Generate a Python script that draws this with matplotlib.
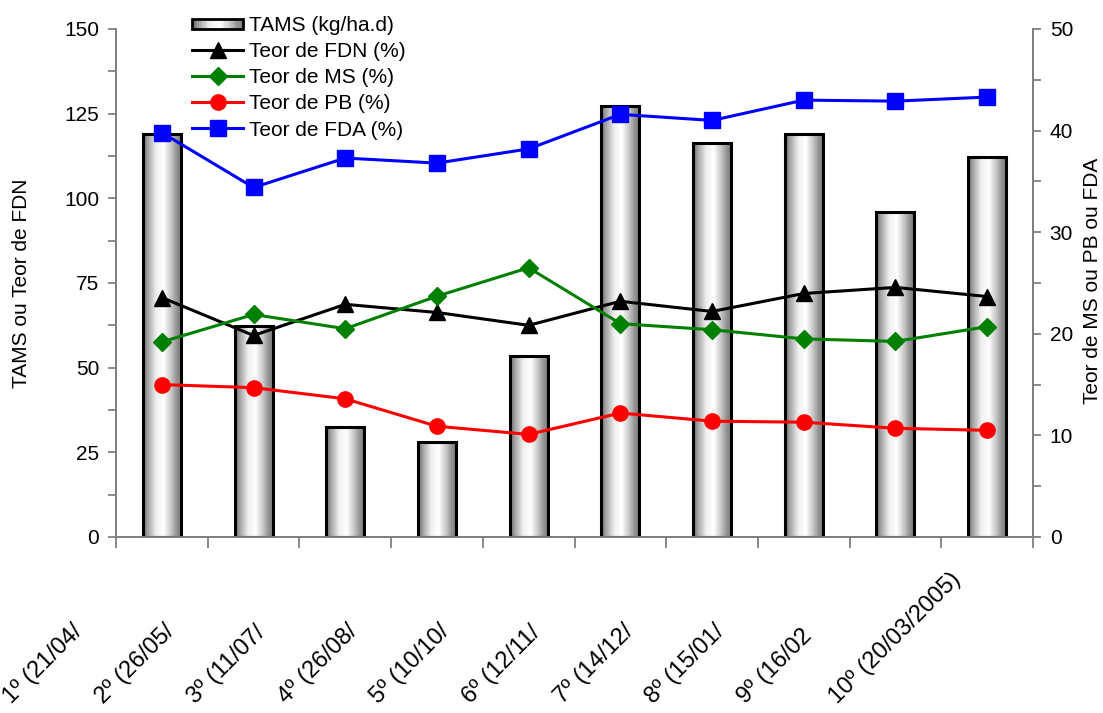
import numpy as np
import matplotlib
matplotlib.use("Agg")
import matplotlib.pyplot as plt
from matplotlib.patches import Rectangle
from matplotlib.lines import Line2D
from matplotlib.legend_handler import HandlerBase
from matplotlib.colors import LinearSegmentedColormap
from matplotlib.transforms import blended_transform_factory, offset_copy

plt.rcParams['font.family'] = ['Liberation Sans', 'DejaVu Sans']
plt.rcParams['font.size'] = 15

# ---------------- data ----------------
categories = ["1º (21/04/", "2º (26/05/", "3º (11/07/", "4º (26/08/", "5º (10/10/",
              "6º (12/11/", "7º (14/12/", "8º (15/01/", "9º (16/02", "10º (20/03/2005)"]
tams = [119.1, 62.2, 32.4, 28.0, 53.3, 127.3, 116.4, 119.1, 96.1, 112.3]
fdn = [70.7, 59.5, 68.7, 66.3, 62.5, 69.6, 66.6, 71.9, 73.7, 71.0]
ms = [19.2, 21.9, 20.5, 23.7, 26.5, 21.0, 20.4, 19.5, 19.25, 20.7]
pb = [15.0, 14.7, 13.6, 10.9, 10.1, 12.2, 11.4, 11.3, 10.7, 10.5]
fda = [39.8, 34.4, 37.3, 36.8, 38.2, 41.6, 41.0, 43.0, 42.9, 43.3]
left_ticks = [0, 25, 50, 75, 100, 125, 150]
right_ticks = [0, 10, 20, 30, 40, 50]

# ---------------- style ----------------
grad_cmap = LinearSegmentedColormap.from_list(
    "cyl", [(0.0, "#666666"), (0.12, "#a0a0a0"), (0.35, "#f0f0f0"),
            (0.55, "#ffffff"), (0.75, "#c4c4c4"), (0.88, "#969696"), (1.0, "#7a7a7a")])
spine_col = "#808080"

W, H = 1103, 713
fig = plt.figure(figsize=(W / 100, H / 100), dpi=100)
ax = fig.add_axes([116 / W, 1 - 537 / H, (1033 - 116) / W, (537 - 29) / H])
ax2 = ax.twinx()

x = np.arange(len(categories))
bw = 0.414
bars = ax.bar(x, tams, width=bw, facecolor="none", edgecolor="black", linewidth=2.2, zorder=3)
grad = np.linspace(0, 1, 256).reshape(1, -1)
for b in bars:
    x0, y0, w, h = b.get_x(), b.get_y(), b.get_width(), b.get_height()
    im = ax.imshow(grad, cmap=grad_cmap, extent=[x0, x0 + w, y0, y0 + h],
                   aspect="auto", zorder=2, interpolation="bilinear")
    im.set_clip_path(b)

ax.plot(x, fdn, color="black", lw=2.2, marker="^", ms=11, mfc="black", mec="black", zorder=5)
ax2.plot(x, ms, color="#008000", lw=2.2, marker="D", ms=9, mfc="#008000", mec="#008000", zorder=5)
ax2.plot(x, pb, color="#ff0000", lw=2.2, marker="o", ms=11, mfc="#ff0000", mec="#ff0000", zorder=5)
ax2.plot(x, fda, color="#0000ff", lw=2.2, marker="s", ms=11, mfc="#0000ff", mec="#0000ff", zorder=5)

ax.set_xlim(-0.5, len(categories) - 0.5)
ax.set_ylim(0, 150)
ax2.set_ylim(0, 50)
ax.set_yticks(left_ticks)
ax.set_yticks(np.arange(12.5, 150, 25), minor=True)
ax2.set_yticks(right_ticks)
ax2.set_yticks(np.arange(5, 50, 10), minor=True)
ax.set_xticks(np.arange(-0.5, len(categories), 1.0))
ax.set_xticklabels([])

for a in (ax, ax2):
    a.spines["top"].set_visible(False)
    for s in ("left", "right", "bottom"):
        a.spines[s].set_color(spine_col)
        a.spines[s].set_linewidth(1.3)
    a.tick_params(axis="both", which="both", color=spine_col, width=1.3, direction="out")
    a.tick_params(axis="y", which="major", length=6, pad=6, labelsize=15, labelcolor="black")
    a.tick_params(axis="y", which="minor", length=6)
ax.tick_params(axis="x", length=8)
ax.patch.set_visible(False)
ax2.patch.set_visible(False)

# rotated category labels
base = blended_transform_factory(ax.transData, ax.transAxes)
for i, lab in enumerate(categories):
    tr = offset_copy(base, fig=fig, x=-150 * 0.72, y=-167 * 0.72, units="points")
    ax.text(i, 0, lab, transform=tr, rotation=45, rotation_mode="anchor",
            ha="left", va="baseline", fontsize=17, clip_on=False)

fig.text(22 / W, 1 - 283 / H, "TAMS ou Teor de FDN", rotation=90, ha="center", va="center", fontsize=15)
fig.text(1093 / W, 1 - 281 / H, "Teor de MS ou PB ou FDA", rotation=90, ha="center", va="center", fontsize=15)


# legend
class GradHandler(HandlerBase):
    def create_artists(self, legend, orig_handle, xdescent, ydescent, width, height, fontsize, trans):
        arts = []
        n = 30
        hh = height * 0.7
        y0 = -ydescent + (height - hh) / 2
        for k in range(n):
            r = Rectangle((-xdescent + width * k / n, y0), width / n + 0.3, hh,
                          facecolor=grad_cmap((k + 0.5) / n), edgecolor="none", transform=trans)
            arts.append(r)
        arts.append(Rectangle((-xdescent, y0), width, hh, facecolor="none",
                              edgecolor="black", lw=2.0, transform=trans))
        return arts


bar_handle = Rectangle((0, 0), 1, 1)
handles = [bar_handle,
           Line2D([], [], color="black", lw=2.2, marker="^", ms=11),
           Line2D([], [], color="#008000", lw=2.2, marker="D", ms=9),
           Line2D([], [], color="#ff0000", lw=2.2, marker="o", ms=11),
           Line2D([], [], color="#0000ff", lw=2.2, marker="s", ms=11)]
labels = ["TAMS (kg/ha.d)", "Teor de FDN (%)", "Teor de MS (%)", "Teor de PB (%)", "Teor de FDA (%)"]
leg = ax2.legend(handles, labels, handler_map={Rectangle: GradHandler()},
                 loc="upper left", bbox_to_anchor=(188 / W, 1 - 12 / H),
                 bbox_transform=fig.transFigure, frameon=False, fontsize=15,
                 handlelength=2.45, handletextpad=0.3, labelspacing=0.34,
                 borderpad=0.2, borderaxespad=0)
leg.set_zorder(10)

fig.savefig("out.png", dpi=100)
